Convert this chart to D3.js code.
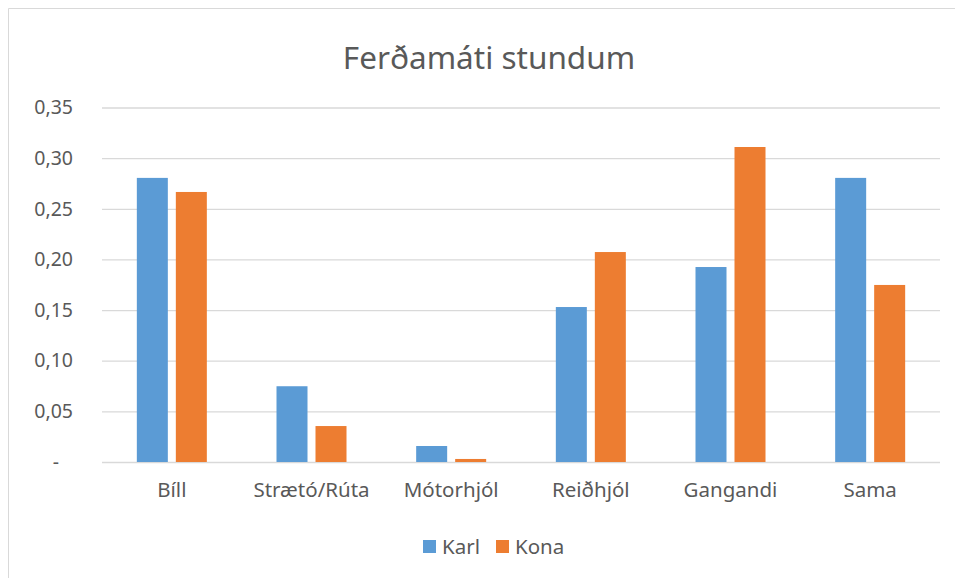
<!DOCTYPE html>
<html>
<head>
<meta charset="utf-8">
<script src="https://cdn.jsdelivr.net/npm/d3@7"></script>
<style>
  body { margin: 0; background: #fff; }
  svg text { font-family: "Noto Sans", "Open Sans", sans-serif; fill: #595959; }
</style>
</head>
<body>
<svg id="chart" width="955" height="578"></svg>
<script>
// gögn lesin af myndinni
var categories = ['Bíll', 'Strætó/Rúta', 'Mótorhjól', 'Reiðhjól', 'Gangandi', 'Sama']
var seriesNames = ['Karl', 'Kona']
var karl = [0.2805, 0.0748, 0.0158, 0.153, 0.1925, 0.2805]
var kona = [0.2666, 0.0355, 0.003, 0.2073, 0.311, 0.1748]
var yTicks = [0, 0.05, 0.10, 0.15, 0.20, 0.25, 0.30, 0.35]
var colors = ['#5b9bd5', '#ed7d31']

var svg = d3.select('#chart')

// ramminn um myndritið
svg.append('path')
    .attr('d', 'M8.5,578 V8.5 H955')
    .attr('fill', 'none')
    .attr('stroke', '#d9d9d9')

var margin = { left: 102, right: 15, top: 107.5, bottom: 116 }
var w = 955 - margin.left - margin.right
var h = 578 - margin.top - margin.bottom

var x = d3.scaleBand().domain(categories).range([margin.left, margin.left + w])
var y = d3.scaleLinear().domain([0, 0.35]).range([margin.top + h, margin.top])

// titill
svg.append('text')
    .attr('x', 489)
    .attr('y', 69)
    .attr('text-anchor', 'middle')
    .style('font-size', '31.5px')
    .text('Ferðamáti stundum')

// láréttar hnitalínur
var yAxis = d3.axisLeft(y)
    .tickValues(yTicks)
    .tickSize(-w)
    .tickPadding(29)
    .tickFormat(function(d) {
        return d === 0 ? '-' : d3.format('.2f')(d).replace('.', ',')
    })

var gy = svg.append('g')
    .attr('transform', 'translate(' + margin.left + ',0)')
    .call(yAxis)
gy.select('.domain').remove()
gy.selectAll('line').attr('stroke', '#d9d9d9').attr('stroke-width', 1.3)
gy.selectAll('text').style('font-size', '19.5px')
gy.selectAll('.tick').filter(function(d) { return d === 0 }).select('text').attr('dx', -14)

// súlur
var barW = 31, gap = 8
var series = [karl, kona]
series.forEach(function(vals, s) {
    svg.append('g').selectAll('rect')
        .data(vals)
        .enter().append('rect')
        .attr('x', function(d, i) {
            var c = x(categories[i]) + x.bandwidth() / 2
            return s === 0 ? c - gap / 2 - barW : c + gap / 2
        })
        .attr('y', function(d) { return y(d) })
        .attr('width', barW)
        .attr('height', function(d) { return y(0) - y(d) })
        .attr('fill', colors[s])
})

// x ás
var gx = svg.append('g')
    .attr('transform', 'translate(0,' + y(0) + ')')
    .call(d3.axisBottom(x).tickSize(0).tickPadding(20))
gx.select('.domain').remove()
gx.selectAll('text').style('font-size', '20.5px')

// skýringar
var legend = svg.append('g')
var lx = [423, 496]
seriesNames.forEach(function(name, i) {
    legend.append('rect')
        .attr('x', lx[i]).attr('y', 540)
        .attr('width', 13).attr('height', 13)
        .attr('fill', colors[i])
    legend.append('text')
        .attr('x', lx[i] + 19).attr('y', 554)
        .style('font-size', '20.5px')
        .text(name)
})
</script>
</body>
</html>
